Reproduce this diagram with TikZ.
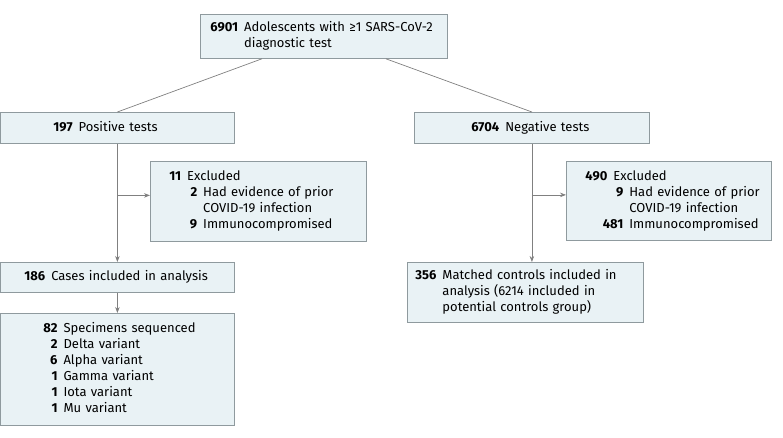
\documentclass[tikz,border=0pt]{standalone}
\usepackage{fontspec}
\setmainfont{Fira Sans}
\usetikzlibrary{arrows.meta,positioning}
\definecolor{fond}{HTML}{E9F2F5}
\definecolor{bord}{HTML}{8F9A9E}
\definecolor{gristrait}{HTML}{808080}
\newcommand{\lignes}[1]{\begin{tabular}{@{}r@{\hspace{6pt}}l@{}}#1\end{tabular}}
\newcommand{\sous}[2]{\hspace*{10pt}\llap{\textbf{#1}}\hspace{6pt}#2}

\begin{document}
\begin{tikzpicture}[x=1pt, y=-1pt, font=\fontsize{13}{16}\selectfont]
	\tikzset{boite/.style={draw=bord, fill=fond, line width=0.8pt, anchor=north west, inner ysep=0pt, align=left},
	trait/.style={draw=gristrait, line width=0.7pt},
	fleche/.style={trait, -{Stealth[length=6pt, width=4.5pt]}}};

	\useasboundingbox (0,0) rectangle (783,438);

	\node[boite, minimum width=247pt, minimum height=44pt, inner xsep=10pt, text width=227pt] (total) at (200,14)
		{\lignes{\textbf{6901} & Adolescents with ≥1 SARS-CoV-2\\ & diagnostic test}};
	\node[boite, minimum width=234pt, minimum height=31pt, inner xsep=53pt, text width=128pt] (pos) at (0,112)
		{\lignes{\textbf{197} & Positive tests}};
	\node[boite, minimum width=235pt, minimum height=31pt, inner xsep=57pt, text width=121pt] (neg) at (414,112)
		{\lignes{\textbf{6704} & Negative tests}};
	\node[boite, minimum width=216pt, minimum height=80pt, inner xsep=19pt, text width=178pt] (exG) at (150,161)
		{\lignes{\textbf{11} & Excluded\\ & \sous{2}{Had evidence of prior}\\ & \hspace*{16pt}COVID-19 infection\\ & \sous{9}{Immunocompromised}}};
	\node[boite, minimum width=205pt, minimum height=79pt, inner xsep=19pt, text width=167pt] (exD) at (566,161)
		{\lignes{\textbf{490} & Excluded\\ & \sous{9}{Had evidence of prior}\\ & \hspace*{16pt}COVID-19 infection\\ & \sous{481}{Immunocompromised}}};
	\node[boite, minimum width=234pt, minimum height=30pt, inner xsep=24pt, text width=186pt] (cas) at (0,262)
		{\lignes{\textbf{186} & Cases included in analysis}};
	\node[boite, minimum width=234pt, minimum height=112pt, inner xsep=43pt, text width=148pt] (spec) at (0,313)
		{\lignes{\textbf{82} & Specimens sequenced\\ \textbf{2} & Delta variant\\ \textbf{6} & Alpha variant\\
		\textbf{1} & Gamma variant\\ \textbf{1} & Iota variant\\ \textbf{1} & Mu variant}};
	\node[boite, minimum width=236pt, minimum height=60pt, inner xsep=8pt, text width=220pt] (temoins) at (407,262)
		{\lignes{\textbf{356} & Matched controls included in\\ & analysis (6214 included in\\ & potential controls group)}};

	\coordinate (embG) at ([yshift=6pt]exG.west);
	\coordinate (embD) at ([yshift=6pt]exD.west);

	\draw[trait] ([xshift=-62pt]total.south) -- (pos.north);
	\draw[trait] ([xshift=62pt]total.south) -- (neg.north);

	\draw[fleche] (pos.south) -- (cas.north);
	\draw[fleche] (pos.south |- embG) -- (embG);
	\draw[fleche] (cas.south) -- (spec.north);
	\draw[fleche] (neg.south) -- (neg.south |- temoins.north);
	\draw[fleche] (neg.south |- embD) -- (embD);

\end{tikzpicture}
\end{document}
